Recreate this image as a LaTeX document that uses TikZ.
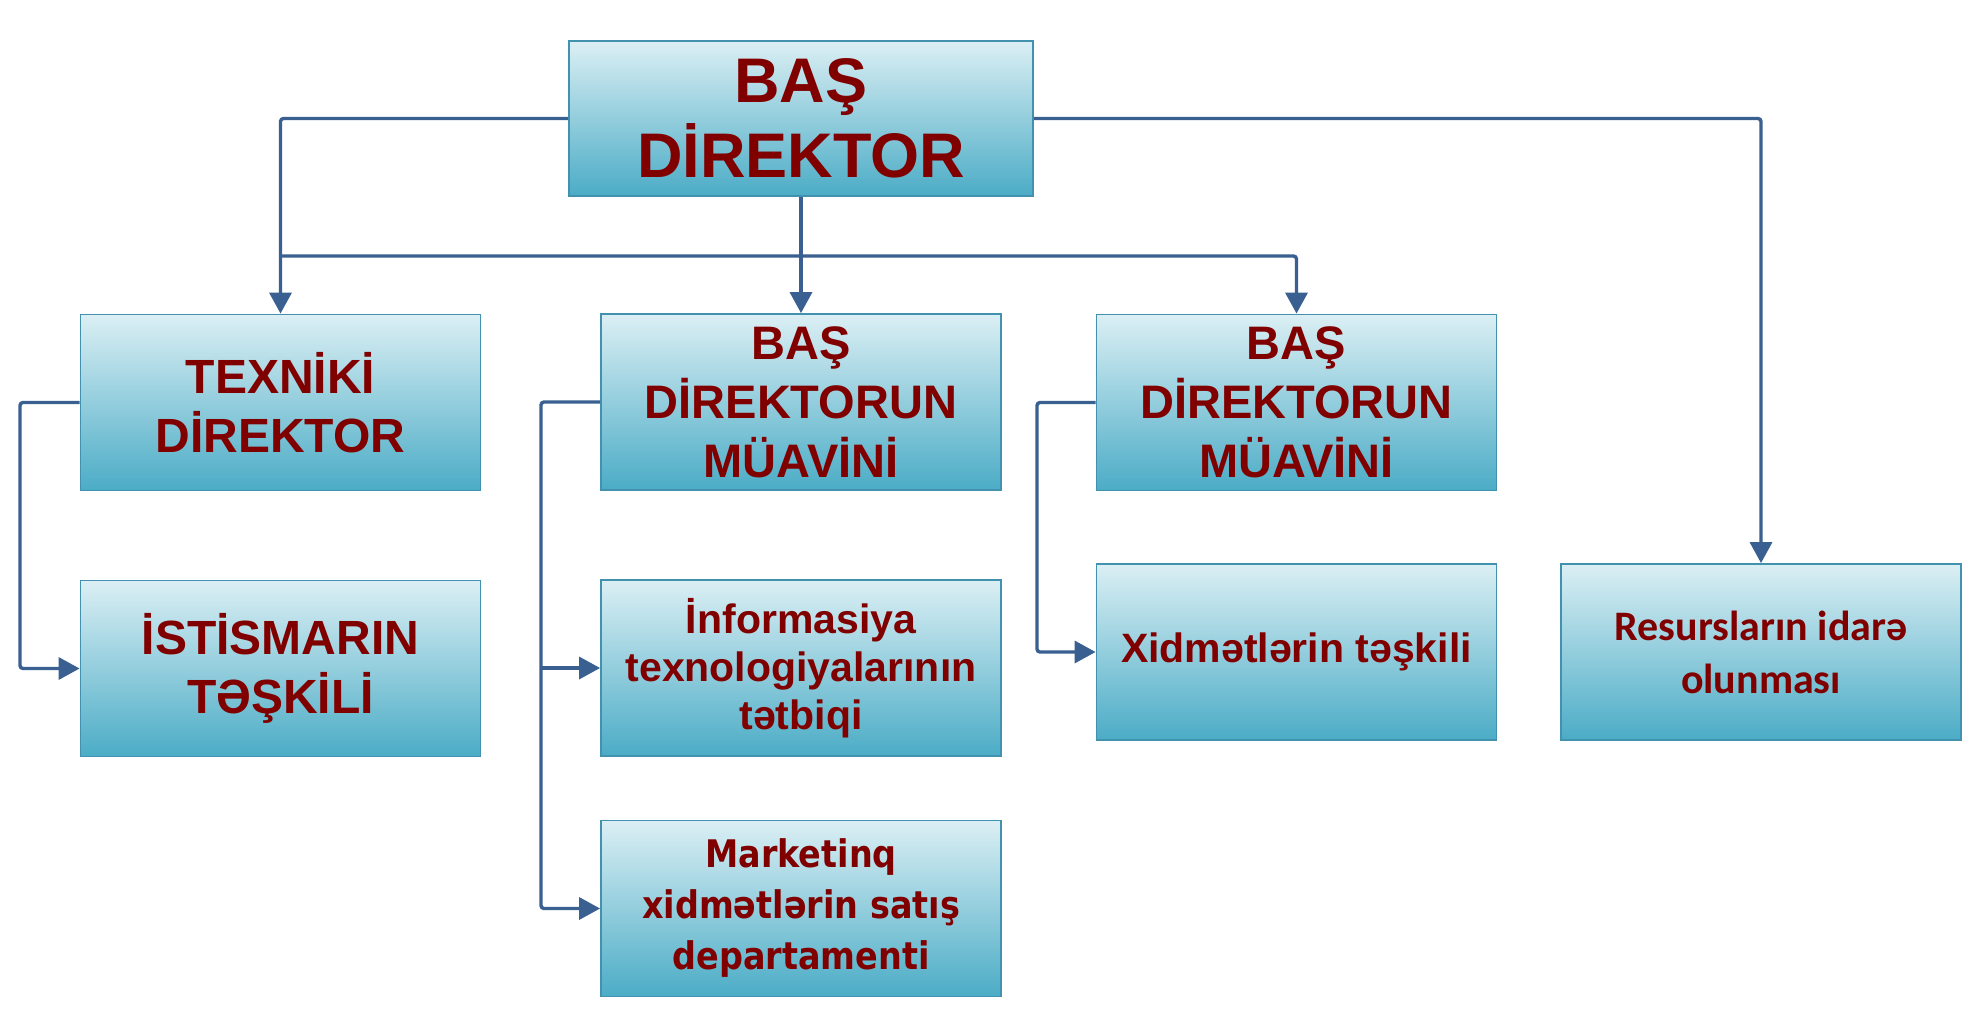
\documentclass[tikz,border=0pt]{standalone}
\usepackage{fontspec}
\setmainfont{Liberation Sans}
\newfontfamily\calib{Carlito}
\newfontfamily\tah[FakeStretch=0.88]{DejaVu Sans}
\usetikzlibrary{arrows.meta}
\definecolor{txt}{RGB}{128,0,0}
\definecolor{boxtop}{RGB}{219,239,244}
\definecolor{boxbot}{RGB}{75,172,198}
\definecolor{boxline}{RGB}{66,146,175}
\definecolor{conncol}{RGB}{58,95,145}
\begin{document}
\begin{tikzpicture}[x=0.5pt,y=-0.5pt,
 box/.style={draw=boxline, line width=0.9pt, top color=boxtop, bottom color=boxbot,
   minimum width=200pt, minimum height=88pt, inner sep=0pt, text=txt, align=center},
 conn/.style={draw=conncol, line width=1.7pt, rounded corners=1.5pt},
 arr/.style={conn, -{Triangle[width=11pt,length=10.5pt]}}]
\useasboundingbox (0,0) rectangle (1983,1019);
\node[box, minimum width=232pt, minimum height=77.5pt, font={\bfseries\fontsize{31.5}{37.5}\selectfont}] (top) at (801,118.5) {BAŞ\\DİREKTOR};
\node[box, font={\bfseries\fontsize{24}{29.5}\selectfont}] (tex) at (280.5,402.5) {TEXNİKİ\\DİREKTOR};
\node[box, font={\bfseries\fontsize{24}{29.5}\selectfont}] (ist) at (280.5,668.5) {İSTİSMARIN\\TƏŞKİLİ};
\node[box, font={\bfseries\fontsize{23.5}{29.5}\selectfont}] (m1) at (801,402) {BAŞ\\DİREKTORUN\\MÜAVİNİ};
\node[box, font={\bfseries\fontsize{20.5}{24}\selectfont}] (inf) at (801,668) {İnformasiya\\texnologiyalarının\\tətbiqi};
\node[box, font={\tah\bfseries\fontsize{19}{25.5}\selectfont}] (mkt) at (801,908.5) {Marketinq\\xidmətlərin satış\\departamenti};
\node[box, font={\bfseries\fontsize{23.5}{29.5}\selectfont}] (m2) at (1296.5,402.5) {BAŞ\\DİREKTORUN\\MÜAVİNİ};
\node[box, font={\bfseries\fontsize{20.5}{24}\selectfont}] (xid) at (1296.5,652) {Xidmətlərin təşkili};
\node[box, font={\calib\bfseries\fontsize{21}{26.5}\selectfont}] (res) at (1761,652) {Resursların idarə\\olunması};
\coordinate (hb) at (801,256);
\coordinate (b1) at (20,0);
\coordinate (b2) at (541,0);
\coordinate (b3) at (1037,0);
\draw[arr] (top.west) -| (tex.north);
\draw[arr] (top.east) -| (res.north);
\draw[arr] (top.south) -- (m1.north);
\draw[arr] (hb -| tex.north) -- (hb -| m2.north) -- (m2.north);
\draw[arr] (tex.west) -- (tex.west -| b1) |- (ist.west);
\draw[arr] (m1.west) -- (m1.west -| b2) |- (mkt.west);
\draw[arr] (inf.west -| b2) -- (inf.west);
\draw[arr] (m2.west) -- (m2.west -| b3) |- (xid.west);
\end{tikzpicture}
\end{document}
